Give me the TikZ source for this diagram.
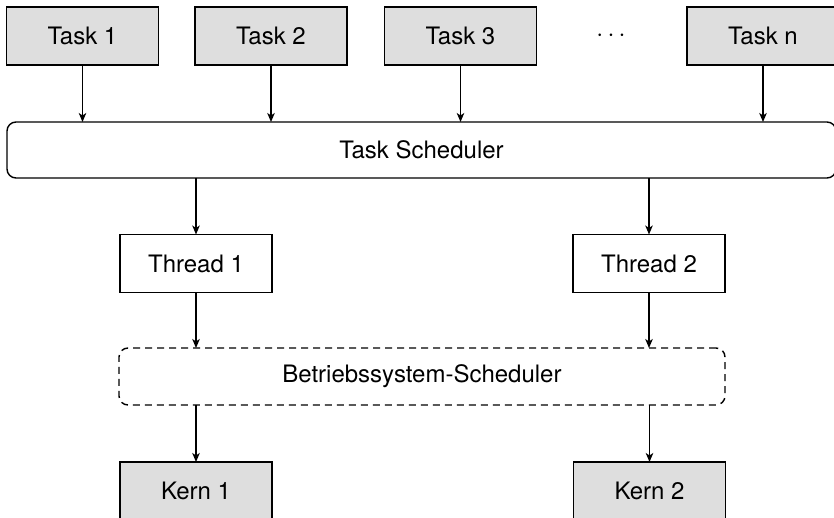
\documentclass[tikz,border=0pt]{standalone}
\usepackage{fontspec}
\setmainfont{TeX Gyre Heros}
\usetikzlibrary{arrows.meta,positioning}
\begin{document}
\begin{tikzpicture}[x=1pt,y=1pt,
  font=\fontsize{24}{28}\selectfont,
  every node/.style={inner sep=0pt, outer sep=0pt},
  box/.style={draw, line width=1.4pt, minimum width=152pt, minimum height=58pt},
  greybox/.style={box, fill=black!13},
  schedbox/.style={draw, line width=1.4pt, rounded corners=9pt, minimum height=56pt},
  link/.style={line width=1.4pt, -{Stealth[length=9pt,width=7.5pt,inset=2.5pt]}}
]
\useasboundingbox (0,0) rectangle (834,-518);

% task row
\node[greybox] (t1) at (82.5,-36) {Task 1};
\node[greybox] (t2) at (271,-36) {Task 2};
\node[greybox] (t3) at (460.5,-36) {Task 3};
\node (dots) at (611,-36) {$\cdots$};
\node[greybox, minimum width=152pt] (tn) at (763,-36) {Task n};

% application-level scheduler
\node[schedbox, minimum width=829pt] (ts) at (421.5,-150) {Task Scheduler};

% threads
\node[box] (th1) at (196,-263.5) {Thread 1};
\node[box] (th2) at (649,-263.5) {Thread 2};

% operating system scheduler
\node[schedbox, dashed, dash pattern=on 7pt off 5pt, minimum width=606pt, minimum height=57pt] (os) at (422,-376.5) {Betriebssystem-Scheduler};

% cores
\node[greybox] (k1) at (196,-491) {Kern 1};
\node[greybox] (k2) at (649.5,-491) {Kern 2};

% connectors
\draw[link] (t1.south) -- (t1.south |- ts.north);
\draw[link] (t2.south) -- (t2.south |- ts.north);
\draw[link] (t3.south) -- (t3.south |- ts.north);
\draw[link] (tn.south) -- (tn.south |- ts.north);
\draw[link] (th1.north |- ts.south) -- (th1.north);
\draw[link] (th2.north |- ts.south) -- (th2.north);
\draw[link] (th1.south) -- (th1.south |- os.north);
\draw[link] (th2.south) -- (th2.south |- os.north);
\draw[link] (k1.north |- os.south) -- (k1.north);
\draw[link] (k2.north |- os.south) -- (k2.north);
\end{tikzpicture}
\end{document}
